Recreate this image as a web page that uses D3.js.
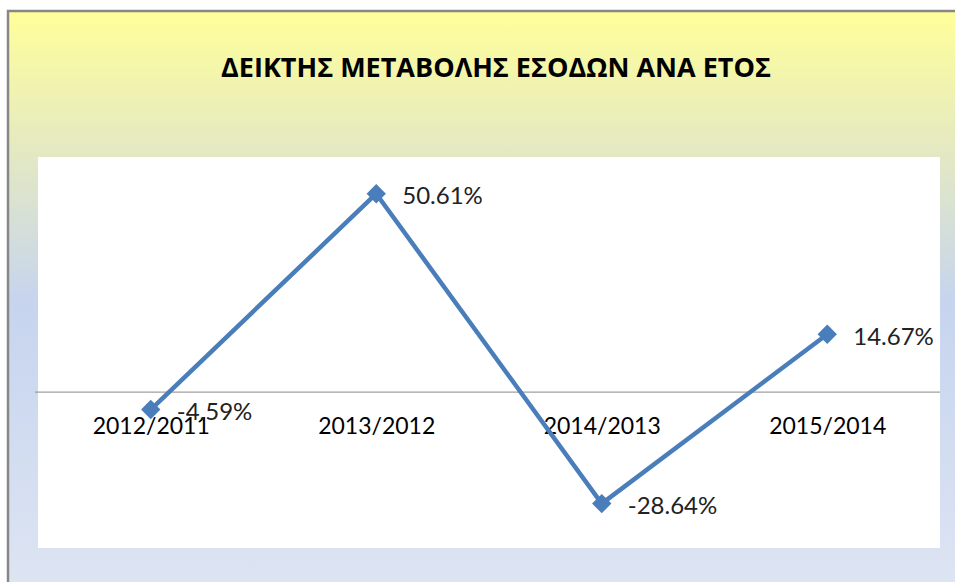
<!DOCTYPE html>
<html>
<head>
<meta charset="utf-8">
<script src="https://cdn.jsdelivr.net/npm/d3@7"></script>
<style>
  body { margin: 0; background: #ffffff; }
  svg { display: block; font-family: Lato, "Open Sans", sans-serif; }
</style>
</head>
<body>
<div class="chart"></div>
<script>
// chart data
var titleText = "ΔΕΙΚΤΗΣ ΜΕΤΑΒΟΛΗΣ ΕΣΟΔΩΝ ΑΝΑ ΕΤΟΣ";
var categories = ["2012/2011", "2013/2012", "2014/2013", "2015/2014"];
var values = [-4.59, 50.61, -28.64, 14.67];

var W = 955, H = 582;

// plot area inside the chart frame
var plot = { left: 38, top: 157, right: 940, bottom: 548 };

var svg = d3.select("div.chart").append("svg")
    .attr("width", W)
    .attr("height", H);

// background gradient of the chart frame
var defs = svg.append("defs");
var grad = defs.append("linearGradient")
    .attr("id", "bg")
    .attr("x1", 0).attr("y1", 0).attr("x2", 0).attr("y2", 1);
grad.append("stop").attr("offset", "0%").attr("stop-color", "#ffff99");
grad.append("stop").attr("offset", "25%").attr("stop-color", "#e3e8c4");
grad.append("stop").attr("offset", "50%").attr("stop-color", "#c6d4ee");
grad.append("stop").attr("offset", "100%").attr("stop-color", "#dee5f3");

svg.append("rect")
    .attr("x", 8)
    .attr("y", 11)
    .attr("width", W)
    .attr("height", H)
    .attr("fill", "url(#bg)")
    .attr("stroke", "#878787")
    .attr("stroke-width", 2.5);

svg.append("text")
    .attr("x", 496)
    .attr("y", 68)
    .attr("dy", "0.35em")
    .style("text-anchor", "middle")
    .style("font-family", "'Open Sans', sans-serif")
    .style("font-size", "27px")
    .style("font-weight", "bold")
    .style("fill", "#000")
    .text(titleText);

svg.append("rect")
    .attr("x", plot.left)
    .attr("y", plot.top)
    .attr("width", plot.right - plot.left)
    .attr("height", plot.bottom - plot.top)
    .attr("fill", "#ffffff");

// scales
var xScale = d3.scalePoint()
    .domain(categories)
    .range([plot.left, plot.right])
    .padding(0.5);

var yScale = d3.scaleLinear()
    .domain([-40, 60])
    .range([plot.bottom, plot.top]);

// category axis at zero
var xAxis = d3.axisBottom(xScale).tickSize(0).tickPadding(26);
var gx = svg.append("g")
    .attr("class", "x axis")
    .attr("transform", "translate(0," + yScale(0) + ")")
    .call(xAxis);
gx.select(".domain")
    .attr("d", "M" + (plot.left - 3) + ",0.5H" + plot.right)
    .attr("stroke", "#888888")
    .attr("stroke-width", 1);
gx.selectAll("text")
    .style("font-size", "23px")
    .style("font-family", "Lato, 'Open Sans', sans-serif")
    .style("fill", "#000");

// series line
var line = d3.line()
    .x(function(d, i) { return xScale(categories[i]); })
    .y(function(d) { return yScale(d); });

svg.append("path")
    .datum(values)
    .attr("d", line)
    .attr("fill", "none")
    .attr("stroke", "#4a7ebb")
    .attr("stroke-width", 4.5)
    .attr("stroke-linejoin", "round");

svg.append("g").selectAll(".pt")
    .data(values)
    .enter().append("path")
    .attr("class", "pt")
    .attr("transform", function(d, i) {
        return "translate(" + xScale(categories[i]) + "," + yScale(d) + ")";
    })
    .attr("d", d3.symbol().type(d3.symbolDiamond2).size(240))
    .attr("fill", "#4a7ebb");

svg.append("g").selectAll(".lbl")
    .data(values)
    .enter().append("text")
    .attr("class", "lbl")
    .attr("x", function(d, i) { return xScale(categories[i]) + 26; })
    .attr("y", function(d) { return yScale(d) + 2; })
    .attr("dy", "0.35em")
    .style("font-size", "24px")
    .style("fill", "#222")
    .text(function(d) { return d.toFixed(2) + "%"; });
</script>
</body>
</html>
